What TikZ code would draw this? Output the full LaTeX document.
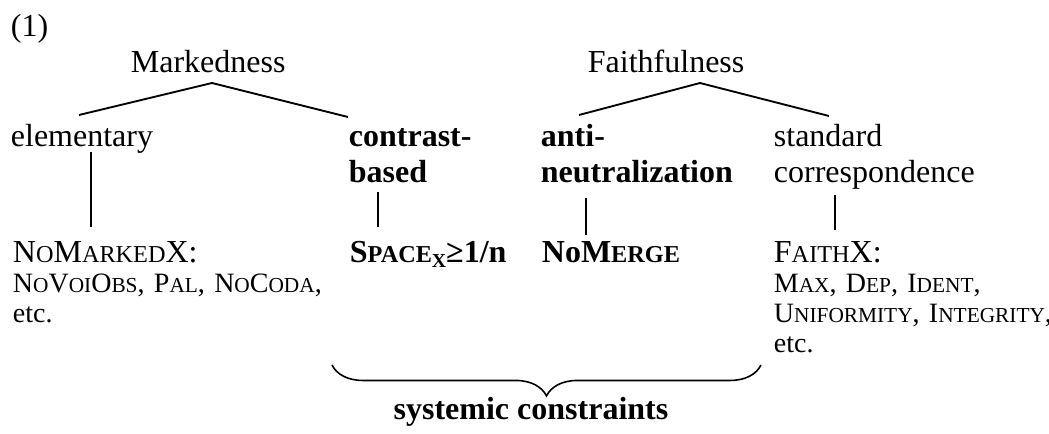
\documentclass[tikz,border=0pt]{standalone}
\usepackage{fontspec}
\setmainfont{Liberation Serif}
\usepackage{tikz}
\usetikzlibrary{decorations.pathreplacing}
% small capitals by hand, at two sizes
\newcommand{\scA}[1]{{\fontsize{9.1}{10}\selectfont #1}}
\newcommand{\scB}[1]{{\fontsize{8}{9}\selectfont #1}}

\begin{document}
\begin{tikzpicture}[x=0.375pt,y=-0.375pt,line width=0.7pt]
\tikzstyle{every node}+=[inner sep=0pt,anchor=base west,font=\fontsize{12}{13.5}\selectfont]
\tikzstyle{two}=[text width=80pt,align=left]
\tikzstyle{lst}=[font=\fontsize{10.5}{11.1}\selectfont,text width=125pt,align=left]
\tikzstyle{brc}=[decorate,decoration={brace,amplitude=11.6pt},line width=0.6pt]
\useasboundingbox (0,0) rectangle (1049,434);
\draw (10,37) node (ex) {(1)};
% top level
\draw (130,73) node (mk) {Markedness};
\draw (587,73) node (ff) {Faithfulness};
% second level
\draw (10,147) node (el) {elementary};
\draw (348,147) node [two] (cb) {\textbf{contrast-}\\\textbf{based}};
\draw (540,147) node [two] (an) {\textbf{anti-}\\\textbf{neutralization}};
\draw (773,147) node [two] (sc) {standard\\correspondence};
% constraints
\draw (12,263) node (nmx) {N\scA{O}M\scA{ARKED}X:};
\draw (12,293) node [lst] (nmx-l) {N\scB{O}V\scB{OI}O\scB{BS}, P\scB{AL}, N\scB{O}C\scB{ODA},\\etc.};
\draw (349,263) node (spc) {\textbf{S\scA{PACE}\raisebox{-1.8pt}{\fontsize{7.4}{8}\selectfont X}≥1/n}};
\draw (541,263) node (nmg) {\textbf{NoM\scA{ERGE}}};
\draw (773,263) node (fx) {F\scA{AITH}X:};
\draw (773,293) node [lst] (fx-l) {M\scB{AX}, D\scB{EP}, I\scB{DENT},\\U\scB{NIFORMITY}, I\scB{NTEGRITY},\\etc.};
\draw (531,420) node [anchor=base] (sys) {\textbf{systemic constraints}};
% branch points
\coordinate (mk-a) at (212,83);
\coordinate (el-t) at (79,115);
\coordinate (cb-t) at (348,117);
\coordinate (ff-a) at (700,83);
\coordinate (an-t) at (579,115);
\coordinate (sc-t) at (829,116);
\coordinate (el-b) at (91,152);
\coordinate (nmx-t) at (91,227);
\coordinate (cb-b) at (378,192);
\coordinate (spc-t) at (378,227);
\coordinate (an-b) at (586,198);
\coordinate (nmg-t) at (586,235);
\coordinate (sc-b) at (835,195);
\coordinate (fx-t) at (835,230);
\coordinate (br-l) at (332,365);
\coordinate (br-r) at (761,365);
\draw (el-t) -- (mk-a) -- (cb-t);
\draw (an-t) -- (ff-a) -- (sc-t);
\draw (el-b) -- (nmx-t);
\draw (cb-b) -- (spc-t);
\draw (an-b) -- (nmg-t);
\draw (sc-b) -- (fx-t);
\draw [brc] (br-r) -- (br-l);
\end{tikzpicture}
\end{document}
